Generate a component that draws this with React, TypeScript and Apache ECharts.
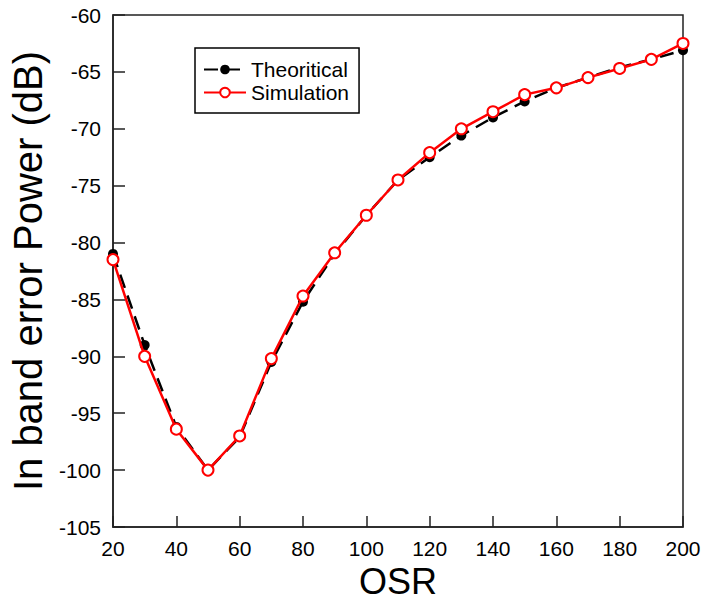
import React, { useEffect, useRef } from "react";
import * as echarts from "echarts";

const osr = [20, 30, 40, 50, 60, 70, 80, 90, 100, 110, 120, 130, 140, 150, 160, 170, 180, 190, 200];
const theoretical = [-81, -89, -96.2, -100, -97.1, -90.5, -85.2, -81, -77.6, -74.5, -72.5, -70.6, -69, -67.6, -66.4, -65.5, -64.6, -63.9, -63.1];
const simulation = [-81.5, -90, -96.4, -100, -97, -90.2, -84.7, -80.9, -77.6, -74.5, -72.1, -70, -68.5, -67, -66.4, -65.5, -64.7, -63.9, -62.5];

const FONT = "Liberation Sans, Arial, sans-serif";

export default function App() {
  const ref = useRef<HTMLDivElement>(null);
  useEffect(() => {
    document.body.style.margin = "0";
    const chart = echarts.init(ref.current!, null, { renderer: "svg" });
    chart.setOption({
      animation: false,
      backgroundColor: "#fff",
      textStyle: { fontFamily: FONT, color: "#000" },
      grid: {
        left: 113,
        top: 15,
        right: 19,
        bottom: 72,
        show: true,
        borderColor: "#222",
        borderWidth: 1.5,
        containLabel: false,
        outerBoundsMode: "none",
      },
      legend: {
        orient: "vertical",
        left: 195,
        top: 48,
        padding: [11, 10, 10, 8],
        borderColor: "#000",
        borderWidth: 1.5,
        itemWidth: 42,
        itemHeight: 12,
        itemGap: 2,
        textStyle: { fontFamily: FONT, fontSize: 21, color: "#000", lineHeight: 20 },
        data: ["Theoritical", "Simulation"],
      },
      xAxis: {
        type: "value",
        min: 20,
        max: 200,
        interval: 20,
        name: "OSR",
        nameLocation: "middle",
        nameGap: 28,
        nameTextStyle: { fontFamily: FONT, fontSize: 36, color: "#000", lineHeight: 32 },
        axisLine: { show: true, lineStyle: { color: "#222", width: 1.5 } },
        axisTick: { show: true, inside: true, length: 11, lineStyle: { color: "#222", width: 1.5 } },
        axisLabel: { fontFamily: FONT, fontSize: 21, color: "#000", margin: 11 },
        splitLine: { show: false },
      },
      yAxis: {
        type: "value",
        min: -105,
        max: -60,
        interval: 5,
        name: "In band error Power (dB)",
        nameLocation: "middle",
        nameGap: 60,
        nameTextStyle: { fontFamily: FONT, fontSize: 40, color: "#000" },
        axisLine: { show: true, lineStyle: { color: "#222", width: 1.5 } },
        axisTick: { show: true, inside: true, length: 12, lineStyle: { color: "#222", width: 1.5 } },
        axisLabel: { fontFamily: FONT, fontSize: 21, color: "#000", margin: 12 },
        splitLine: { show: false },
      },
      series: [
        {
          name: "Theoritical",
          type: "line",
          data: osr.map((x, i) => [x, theoretical[i]]),
          symbol: "circle",
          symbolSize: 10,
          itemStyle: { color: "#000" },
          lineStyle: { color: "#000", width: 2.5, type: [14, 8] },
          z: 2,
        },
        {
          name: "Simulation",
          type: "line",
          data: osr.map((x, i) => [x, simulation[i]]),
          symbol: "circle",
          symbolSize: 11,
          itemStyle: { color: "#fff", borderColor: "#f00", borderWidth: 2 },
          lineStyle: { color: "#f00", width: 2.5 },
          z: 3,
        },
      ],
    });
    return () => chart.dispose();
  }, []);
  return <div ref={ref} style={{ width: 702, height: 599 }} />;
}
